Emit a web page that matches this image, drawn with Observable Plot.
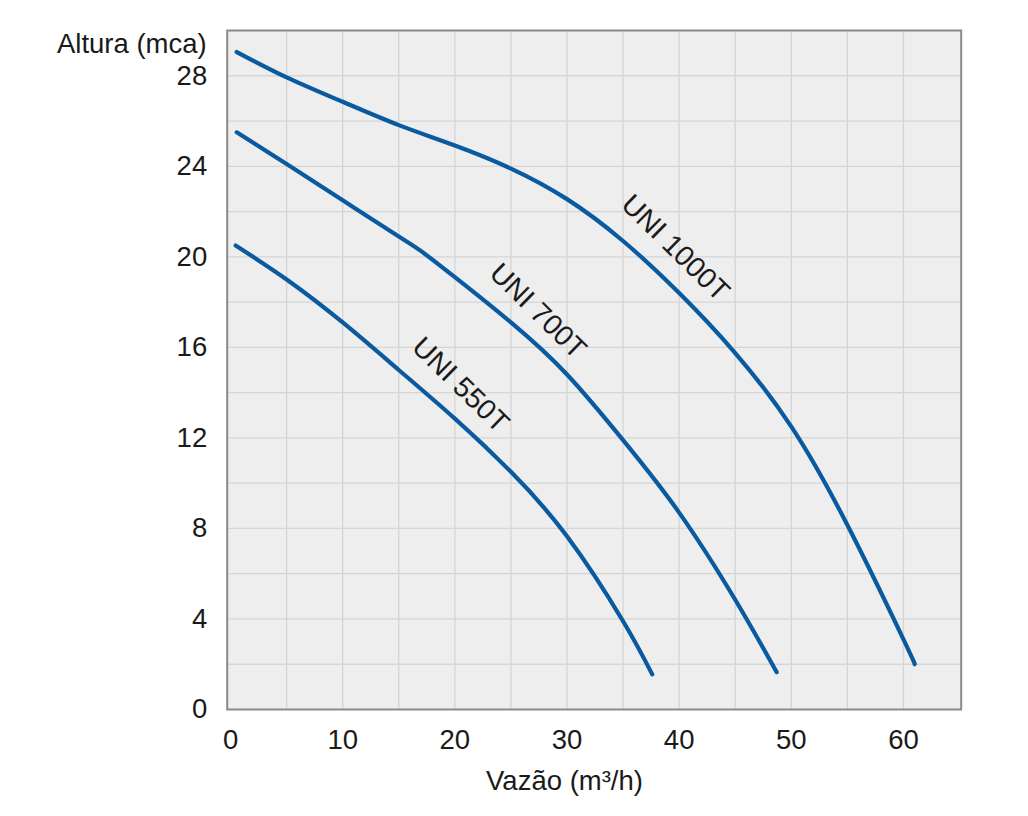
<!DOCTYPE html>
<html><head><meta charset="utf-8">
<script src="https://cdn.jsdelivr.net/npm/d3@7"></script>
<script src="https://cdn.jsdelivr.net/npm/@observablehq/plot@0.6"></script>
<style>body{margin:0;background:#fff;}</style>
</head><body><div id="chart"></div>
<script>
// Pump curves: flow (m3/h) vs head (mca)
const flow550 = [0.45, 5, 10, 15, 20, 25, 30, 35, 37.6];
const head550 = [20.5, 19.0, 17.1, 15.0, 12.85, 10.5, 7.65, 3.9, 1.55];
const flow700 = [0.55, 5, 10, 15, 17, 20, 25, 30, 35, 40, 45, 48.7];
const head700 = [25.5, 24.1, 22.5, 20.9, 20.25, 19.1, 17.1, 14.8, 11.9, 8.7, 4.85, 1.65];
const flow1000 = [0.55, 5, 10, 15, 20, 25, 30, 35, 40, 45, 50, 55, 60, 61];
const head1000 = [29.05, 27.93, 26.85, 25.82, 24.92, 23.9, 22.55, 20.7, 18.4, 15.75, 12.5, 8.15, 3.1, 2.0];

const seriesNames = ["UNI 550T", "UNI 700T", "UNI 1000T"];
const labelFlow = [20.5, 27.4, 39.66];
const labelHead = [14.34, 17.6, 20.39];

const xTicks = [0, 10, 20, 30, 40, 50, 60];
const yTicks = [0, 4, 8, 12, 16, 20, 24, 28];
const xGrid = [5, 10, 15, 20, 25, 30, 35, 40, 45, 50, 55, 60];
const yGrid = [2, 4, 6, 8, 10, 12, 14, 16, 18, 20, 22, 24, 26, 28];

const yTitle = "Altura (mca)";
const xTitle = "Vazão (m³/h)";

const rows = [];
[[flow550, head550], [flow700, head700], [flow1000, head1000]].forEach(([f, h], i) => {
  f.forEach((v, j) => rows.push({series: seriesNames[i], flow: v, head: h[j]}));
});
const labels = seriesNames.map((s, i) => ({text: s, flow: labelFlow[i], head: labelHead[i]}));

const ink = "#1a1a1a";
const plot = Plot.plot({
  width: 1028, height: 816,
  marginLeft: 226.7, marginRight: 67.3, marginTop: 30, marginBottom: 107,
  style: {fontFamily: "'Liberation Sans', Arial, sans-serif", fontSize: "27px", color: ink, background: "#fff"},
  x: {domain: [-0.3, 65.15]},
  y: {domain: [0, 30]},
  marks: [
    Plot.frame({fill: "#eeeeee"}),
    Plot.gridX(xGrid, {stroke: "#d5d5d5", strokeOpacity: 1, strokeWidth: 1.3}),
    Plot.gridY(yGrid, {stroke: "#d5d5d5", strokeOpacity: 1, strokeWidth: 1.3}),
    Plot.frame({stroke: "#8a8a8a", strokeWidth: 2}),
    Plot.axisX(xTicks, {tickSize: 0, tickPadding: 20, label: null, fontSize: 27.5, fill: ink}),
    Plot.axisY(yTicks, {tickSize: 0, tickPadding: 20, label: null, fontSize: 27.5, fill: ink}),
    Plot.line(rows, {x: "flow", y: "head", z: "series", stroke: "#0a5aa0", strokeWidth: 4.2,
      curve: "natural", strokeLinecap: "round", strokeLinejoin: "round"}),
    Plot.text(labels, {x: "flow", y: "head", text: "text", rotate: 44.5, textAnchor: "middle",
      lineAnchor: "middle", fontSize: 28.5, fill: ink}),
    Plot.text([yTitle], {text: d => d, frameAnchor: "top-left", textAnchor: "end", lineAnchor: "middle",
      dx: -20.5, dy: 13.4, fontSize: 27.5, fill: ink}),
    Plot.text([xTitle], {text: d => d, frameAnchor: "bottom", textAnchor: "middle", lineAnchor: "middle",
      dx: -29.7, dy: 72, fontSize: 27.5, fill: ink})
  ]
});
document.getElementById("chart").appendChild(plot);
</script>
</body></html>
